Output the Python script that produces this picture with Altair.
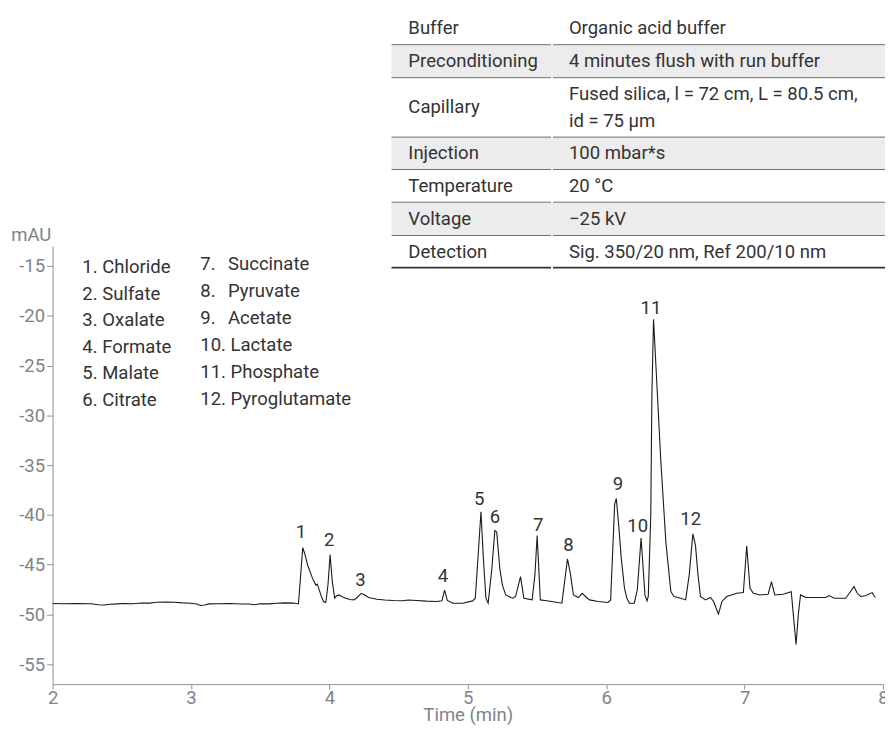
import altair as alt
import pandas as pd

# ---------------- data ----------------
time_min = [
    2.000, 2.08, 2.18, 2.28, 2.33, 2.37, 2.42, 2.47, 2.52, 2.58, 2.64, 2.70, 2.75, 2.82,
    2.88, 2.94, 3.00, 3.04, 3.07, 3.10, 3.13, 3.20, 3.28, 3.36, 3.42, 3.46, 3.50, 3.56,
    3.62, 3.68, 3.74, 3.776, 3.79, 3.807, 3.822, 3.843, 3.878, 3.902, 3.912, 3.919, 3.938,
    3.957, 3.974, 3.99, 4.005, 4.021, 4.038, 4.050, 4.069, 4.09, 4.117, 4.150, 4.177, 4.20,
    4.231, 4.255, 4.284, 4.343, 4.40, 4.463, 4.53, 4.57, 4.630, 4.70, 4.773, 4.813, 4.832,
    4.852, 4.892, 4.964, 5.035, 5.054, 5.075, 5.095, 5.113, 5.131, 5.147, 5.174, 5.195,
    5.209, 5.231, 5.250, 5.274, 5.310, 5.326, 5.345, 5.381, 5.405, 5.465, 5.485, 5.501,
    5.524, 5.570, 5.608, 5.680, 5.720, 5.740, 5.763, 5.798, 5.827, 5.858, 5.880, 5.941,
    6.013, 6.032, 6.061, 6.073, 6.09, 6.109, 6.132, 6.150, 6.168, 6.203, 6.225, 6.252,
    6.280, 6.295, 6.304, 6.322, 6.330, 6.342, 6.394, 6.431, 6.467, 6.490, 6.538, 6.574,
    6.600, 6.626, 6.645, 6.663, 6.681, 6.717, 6.753, 6.776, 6.795, 6.811, 6.836, 6.871,
    6.943, 6.991, 7.015, 7.039, 7.063, 7.111, 7.170, 7.194, 7.218, 7.277, 7.337, 7.355,
    7.372, 7.388, 7.404, 7.444, 7.520, 7.587, 7.611, 7.647, 7.730, 7.760, 7.790, 7.815,
    7.838, 7.873, 7.921, 7.945,
]
absorbance_mau = [
    -48.90, -48.92, -48.90, -48.93, -49.03, -49.06, -48.98, -48.94, -48.90, -48.92, -48.86,
    -48.86, -48.78, -48.76, -48.78, -48.84, -48.88, -48.96, -49.10, -49.06, -48.94, -48.92,
    -48.90, -48.95, -48.96, -49.02, -48.92, -48.94, -48.88, -48.84, -48.86, -48.95, -46.5,
    -43.30, -43.9, -45.06, -46.38, -47.05, -46.95, -47.21, -48.04, -48.70, -48.80, -47.0,
    -43.99, -46.71, -48.37, -48.15, -48.04, -48.2, -48.37, -48.50, -48.54, -48.3, -47.88,
    -48.05, -48.30, -48.47, -48.55, -48.60, -48.62, -48.55, -48.60, -48.66, -48.70, -48.63,
    -47.55, -48.60, -48.87, -48.87, -48.64, -48.37, -44.0, -39.69, -44.5, -48.37, -48.87,
    -45.39, -41.58, -41.73, -45.39, -47.05, -48.04, -48.30, -48.37, -48.20, -46.21, -48.37,
    -48.54, -46.0, -42.07, -48.54, -48.62, -48.70, -48.87, -44.43, -45.8, -48.04, -48.30,
    -47.88, -48.30, -48.54, -48.70, -48.80, -48.54, -38.92, -38.35, -41.0, -44.39, -47.38,
    -48.4, -48.87, -48.87, -47.5, -42.33, -48.04, -48.64, -48.20, -40.0, -28.0, -20.34,
    -34.44, -42.73, -47.71, -48.20, -48.37, -48.54, -46.0, -41.90, -43.07, -46.0, -48.20,
    -48.54, -48.30, -48.70, -49.4, -49.97, -48.70, -48.20, -47.88, -47.81, -43.13, -47.38,
    -47.88, -48.04, -47.97, -46.71, -48.04, -47.97, -47.71, -50.5, -53.02, -50.0, -48.04,
    -48.30, -48.30, -48.30, -48.10, -48.37, -48.37, -47.8, -47.21, -47.9, -48.20, -48.13,
    -47.81, -48.30,
]

peak_ids = ["1", "2", "3", "4", "5", "6", "7", "8", "9", "10", "11", "12"]
peak_label_t = [3.795, 3.998, 4.224, 4.821, 5.083, 5.197, 5.508, 5.727, 6.084, 6.228, 6.323, 6.610]
peak_label_v = [-41.74, -42.57, -46.58, -46.18, -38.42, -40.24, -41.01, -43.0, -36.93, -41.08, -19.19, -40.41]

legend_numbers = ["1.", "2.", "3.", "4.", "5.", "6.", "7.", "8.", "9.", "10.", "11.", "12."]
legend_names = ["Chloride", "Sulfate", "Oxalate", "Formate", "Malate", "Citrate",
                "Succinate", "Pyruvate", "Acetate", "Lactate", "Phosphate", "Pyroglutamate"]

table_params = ["Buffer", "Preconditioning", "Capillary", "Injection",
                "Temperature", "Voltage", "Detection"]
table_values = [["Organic acid buffer"], ["4 minutes flush with run buffer"],
                ["Fused silica, l = 72 cm, L = 80.5 cm,", "id = 75 µm"], ["100 mbar*s"],
                ["20 °C"], ["\u221225 kV"], ["Sig. 350/20 nm, Ref 200/10 nm"]]

x_ticks = [2, 3, 4, 5, 6, 7, 8]
y_ticks = [-55, -50, -45, -40, -35, -30, -25, -20, -15]

# ---------------- layout / style ----------------
FONT = "Roboto"
FS = 18.7
W, H = 838, 442
AXIS_COLOR = "#8e9196"
LABEL_COLOR = "#80848a"
TEXT_COLOR = "#333333"

x_scale = alt.Scale(domain=[2, 8], nice=False, zero=False)
y_scale = alt.Scale(domain=[-57, -13], nice=False, zero=False)

x_axis = alt.Axis(values=x_ticks, title="Time (min)", grid=False, domainColor=AXIS_COLOR,
                  tickColor=AXIS_COLOR, tickSize=5, labelColor=LABEL_COLOR, labelFont=FONT,
                  labelFontSize=FS, labelPadding=0, labelExpr="'' + datum.value",
                  titleFont=FONT, titleFontSize=FS, titleY=31, titleBaseline="middle",
                  titleFontWeight="normal", titleColor=LABEL_COLOR,
                  labelFlush=False)
y_axis = alt.Axis(values=y_ticks, title="mAU", grid=False, domainColor=AXIS_COLOR,
                  tickColor=AXIS_COLOR, tickSize=6, labelColor=LABEL_COLOR, labelFont=FONT,
                  labelFontSize=FS, labelPadding=2, labelExpr="'' + datum.value",
                  titleFont=FONT, titleFontSize=FS, titleFontWeight="normal",
                  titleColor=LABEL_COLOR, titleAngle=0, titleX=-22, titleY=-12,
                  titleAlign="center", titleBaseline="middle", labelFlush=False)

line_df = pd.DataFrame({"t": time_min, "v": absorbance_mau})
trace = alt.Chart(line_df).mark_line(color="#1a1a1a", strokeWidth=1.1).encode(
    x=alt.X("t:Q", scale=x_scale, axis=x_axis),
    y=alt.Y("v:Q", scale=y_scale, axis=y_axis),
)

peak_df = pd.DataFrame({"t": peak_label_t, "v": peak_label_v, "label": peak_ids})
peaks = alt.Chart(peak_df).mark_text(font=FONT, fontSize=FS, color=TEXT_COLOR,
                                     baseline="middle", align="center").encode(
    x=alt.X("t:Q", scale=x_scale), y=alt.Y("v:Q", scale=y_scale), text="label:N")

# legend (pixel layout relative to the plot area)
leg_rows = []
for i, (num, name) in enumerate(zip(legend_numbers, legend_names)):
    if i < 6:
        leg_rows.append({"px": 30, "py": 21 + i * 26.9, "txt": f"{num} {name}"})
    else:
        j = i - 6
        py = 18 + j * 27.2
        if len(num) < 3:
            leg_rows.append({"px": 149, "py": py, "txt": num})
            leg_rows.append({"px": 177, "py": py, "txt": name})
        else:
            leg_rows.append({"px": 149, "py": py, "txt": f"{num} {name}"})
legend = alt.Chart(pd.DataFrame(leg_rows)).mark_text(
    font=FONT, fontSize=FS, color=TEXT_COLOR, align="left", baseline="middle").encode(
    x=alt.X("px:Q", scale=None), y=alt.Y("py:Q", scale=None), text="txt:N")

# table (pixel layout relative to the plot area)
row_edges = [-237, -203.3, -170, -110, -77.3, -44.3, -10.7, 21.7]
T_LEFT, T_COL, T_RIGHT = 342, 504, 850
rect_rows, rule_rows, text_rows = [], [], []
for i, (p, vals) in enumerate(zip(table_params, table_values)):
    top, bot = row_edges[i], row_edges[i + 1]
    mid = (top + bot) / 2
    if i % 2 == 1:
        rect_rows.append({"x1": T_LEFT, "x2": T_RIGHT, "y1": top, "y2": bot})
    if i > 0:
        rule_rows.append({"x1": T_LEFT, "x2": T_COL - 1, "y": top, "c": "#6f6f6f", "w": 1})
        rule_rows.append({"x1": T_COL + 1, "x2": T_RIGHT, "y": top, "c": "#6f6f6f", "w": 1})
    text_rows.append({"px": 359, "py": mid, "txt": p})
    n = len(vals)
    for k, v in enumerate(vals):
        text_rows.append({"px": 521, "py": mid + (k - (n - 1) / 2) * 27, "txt": v})
rule_rows.append({"x1": T_LEFT, "x2": T_COL - 1, "y": row_edges[-1], "c": "#333333", "w": 1.6})
rule_rows.append({"x1": T_COL + 1, "x2": T_RIGHT, "y": row_edges[-1], "c": "#333333", "w": 1.6})

t_rects = alt.Chart(pd.DataFrame(rect_rows)).mark_rect(color="#ececec").encode(
    x=alt.X("x1:Q", scale=None), x2="x2:Q", y=alt.Y("y1:Q", scale=None), y2="y2:Q")
t_rules = alt.Chart(pd.DataFrame(rule_rows)).mark_rule().encode(
    x=alt.X("x1:Q", scale=None), x2="x2:Q", y=alt.Y("y:Q", scale=None),
    color=alt.Color("c:N", scale=None), strokeWidth=alt.StrokeWidth("w:Q", scale=None))
t_text = alt.Chart(pd.DataFrame(text_rows)).mark_text(
    font=FONT, fontSize=FS, color=TEXT_COLOR, align="left", baseline="middle").encode(
    x=alt.X("px:Q", scale=None), y=alt.Y("py:Q", scale=None), text="txt:N")

chart = alt.layer(trace, peaks, legend, t_rects, t_rules, t_text).properties(
    width=W, height=H,
    autosize=alt.AutoSizeParams(type="none"),
    padding={"left": 45, "top": 237, "right": 2, "bottom": 40},
    background="white",
).configure_view(stroke=None)

chart.save("out.html", embed_options={"renderer": "svg", "actions": False})
